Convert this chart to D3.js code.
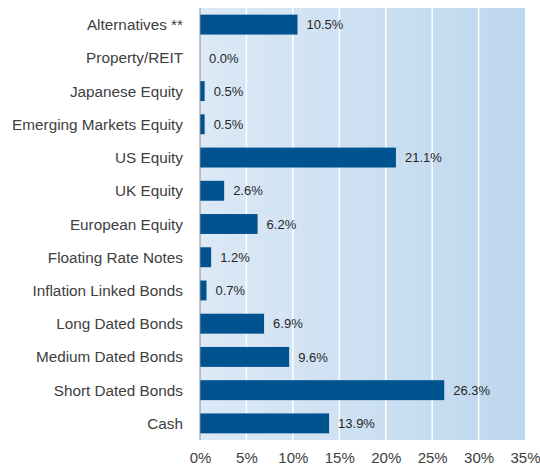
<!DOCTYPE html>
<html>
<head>
<meta charset="utf-8">
<script src="https://cdn.jsdelivr.net/npm/d3@7"></script>
<style>
body { margin: 0; background: #fff; }
text { font-family: "Liberation Sans", Arial, sans-serif; }
</style>
</head>
<body>
<div id="chart"></div>
<script>
const categories = ["Alternatives **", "Property/REIT", "Japanese Equity", "Emerging Markets Equity",
  "US Equity", "UK Equity", "European Equity", "Floating Rate Notes", "Inflation Linked Bonds",
  "Long Dated Bonds", "Medium Dated Bonds", "Short Dated Bonds", "Cash"];
const values = [10.5, 0.0, 0.5, 0.5, 21.1, 2.6, 6.2, 1.2, 0.7, 6.9, 9.6, 26.3, 13.9];
const tickValues = [0, 5, 10, 15, 20, 25, 30, 35];

const W = 540, H = 465;
const MARGIN = {top: 8, right: 15, bottom: 25, left: 200};
const width = W - MARGIN.left - MARGIN.right,
      height = H - MARGIN.top - MARGIN.bottom;

const svg = d3.select("#chart").append("svg")
  .attr("width", W).attr("height", H);

const defs = svg.append("defs");
const grad = defs.append("linearGradient").attr("id", "bg")
  .attr("x1", "0%").attr("x2", "100%").attr("y1", "0%").attr("y2", "0%");
grad.append("stop").attr("offset", "0%").attr("stop-color", "#dce9f6");
grad.append("stop").attr("offset", "100%").attr("stop-color", "#bdd7ee");

const g = svg.append("g").attr("transform", `translate(${MARGIN.left},${MARGIN.top})`);

var x = d3.scaleLinear().domain([0, 35]).range([0, width]);
var y = d3.scaleBand().domain(categories).range([0, height]).paddingInner(0.4).paddingOuter(0.2);

g.append("rect")
  .attr("width", width).attr("height", height)
  .attr("fill", "url(#bg)");

// vertical white gridlines
g.selectAll(".grid")
  .data(tickValues.slice(1, -1))
  .enter().append("line")
  .attr("x1", d => x(d)).attr("x2", d => x(d))
  .attr("y1", 0).attr("y2", height)
  .attr("stroke", "#fff").attr("stroke-width", 1.5);

g.selectAll(".bar")
  .data(values)
  .enter().append("rect")
  .attr("x", 0)
  .attr("y", (d, i) => y(categories[i]))
  .attr("width", d => x(d))
  .attr("height", y.bandwidth())
  .attr("fill", "#00538f");

g.selectAll(".val")
  .data(values)
  .enter().append("text")
  .attr("x", d => x(d) + 9)
  .attr("y", (d, i) => y(categories[i]) + y.bandwidth() / 2)
  .attr("dy", "0.36em")
  .attr("font-size", 13)
  .attr("fill", "#262626")
  .text(d => d.toFixed(1) + "%");

// category labels
g.selectAll(".cat")
  .data(categories)
  .enter().append("text")
  .attr("x", -17)
  .attr("y", d => y(d) + y.bandwidth() / 2)
  .attr("dy", "0.36em")
  .attr("text-anchor", "end")
  .attr("font-size", 15.3)
  .attr("fill", "#404040")
  .text(d => d);

// x axis
const xAxis = d3.axisBottom(x).tickValues(tickValues).tickSize(0).tickPadding(12).tickFormat(d => d + "%");
const ax = g.append("g").attr("transform", `translate(0,${height})`).call(xAxis);
ax.select(".domain").remove();
ax.selectAll("text").attr("font-size", 15).attr("fill", "#404040")
  .attr("font-family", "Liberation Sans, Arial, sans-serif");

g.append("line")
  .attr("x1", 0).attr("x2", 0).attr("y1", 0).attr("y2", height)
  .attr("stroke", "#8c8c8c").attr("stroke-width", 1);
</script>
</body>
</html>
